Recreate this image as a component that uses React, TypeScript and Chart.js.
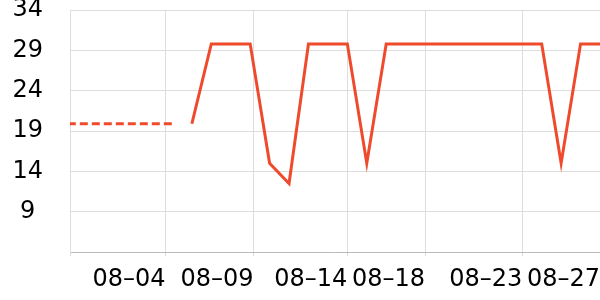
import React, { useEffect, useRef } from "react";
import { Chart, registerables } from "chart.js";

Chart.register(...registerables);

// Dashed (earlier) series
const dashedDates = ["07-30", "07-31", "08-01", "08-02", "08-03", "08-04", "08-05"];
const dashedValues = [19.9, 19.9, 19.9, 19.9, 19.9, 19.9, 19.9];

// Solid series
const solidDates = [
  "08-06", "08-07", "08-08", "08-09", "08-10", "08-11", "08-12", "08-13",
  "08-14", "08-15", "08-16", "08-17", "08-18", "08-19", "08-20", "08-21",
  "08-22", "08-23", "08-24", "08-25", "08-26", "08-27",
];
const solidValues = [
  19.9, 29.8, 29.8, 29.8, 15, 12.5, 29.8, 29.8,
  29.8, 15, 29.8, 29.8, 29.8, 29.8, 29.8, 29.8,
  29.8, 29.8, 29.8, 15, 29.8, 29.8,
];

// X tick labels and their (day-of-August) positions
const xTickLabels = ["", "08–04", "08–09", "08–14", "08–18", "08–23", "08–27"];
const xTickDays = [-0.27, 4.65, 9.17, 14, 18, 23, 27];

const yMin = 4;
const yMax = 34;
const yStep = 5;

const toDay = (s: string) => {
  const [m, d] = s.split("-").map(Number);
  return m === 7 ? d - 31 : d;
};

const COLOR = "#ef4a2b";
const FONT = "'DejaVu Sans', Verdana, sans-serif";

export default function App() {
  const ref = useRef<HTMLCanvasElement | null>(null);

  useEffect(() => {
    if (!ref.current) return;
    const chart = new Chart(ref.current, {
      type: "line",
      data: {
        datasets: [
          {
            data: dashedDates.map((d, i) => ({ x: toDay(d), y: dashedValues[i] })),
            borderColor: COLOR,
            borderWidth: 3,
            borderDash: [8, 4],
            pointRadius: 0,
            tension: 0,
            clip: 0 as any,
          },
          {
            data: solidDates.map((d, i) => ({ x: toDay(d), y: solidValues[i] })),
            borderColor: COLOR,
            borderWidth: 3,
            pointRadius: 0,
            tension: 0,
            clip: 0 as any,
          },
        ],
      },
      options: {
        animation: false,
        responsive: false,
        layout: { padding: { top: 10, left: 0, right: 0, bottom: 0 } },
        plugins: { legend: { display: false }, tooltip: { enabled: false } },
        scales: {
          x: {
            type: "linear",
            min: xTickDays[0],
            max: xTickDays[xTickDays.length - 1],
            afterBuildTicks: (scale: any) => {
              scale.ticks = xTickDays.map((v) => ({ value: v }));
            },
            afterFit: (scale: any) => {
              scale.height = 48;
              scale.paddingLeft = 0;
              scale.paddingRight = 0;
            },
            grid: { color: "#dddddd", tickLength: 4, drawTicks: true },
            border: { color: "#bbbbbb" },
            ticks: {
              autoSkip: false,
              maxRotation: 0,
              minRotation: 0,
              align: "end",
              padding: 9,
              color: "#000",
              font: { family: FONT, size: 24 },
              callback: (v: any) => {
                const i = xTickDays.indexOf(Number(v));
                return i >= 0 ? xTickLabels[i] : "";
              },
            },
          },
          y: {
            type: "linear",
            min: yMin,
            max: yMax,
            afterFit: (scale: any) => {
              scale.width = 70;
              scale.paddingTop = 0;
              scale.paddingBottom = 0;
            },
            grid: { color: "#dddddd", drawTicks: false },
            border: { color: "#dddddd" },
            ticks: {
              stepSize: yStep,
              crossAlign: "center",
              padding: 27,
              color: "#000",
              font: { family: FONT, size: 24 },
              callback: (v: any) => (Number(v) === yMin ? "" : String(v)),
            },
          },
        },
      },
    });
    return () => chart.destroy();
  }, []);

  return (
    <div style={{ position: "fixed", left: 0, top: 0, width: 600, height: 300, background: "#fff" }}>
      <canvas ref={ref} width={600} height={300} style={{ display: "block" }} />
    </div>
  );
}
